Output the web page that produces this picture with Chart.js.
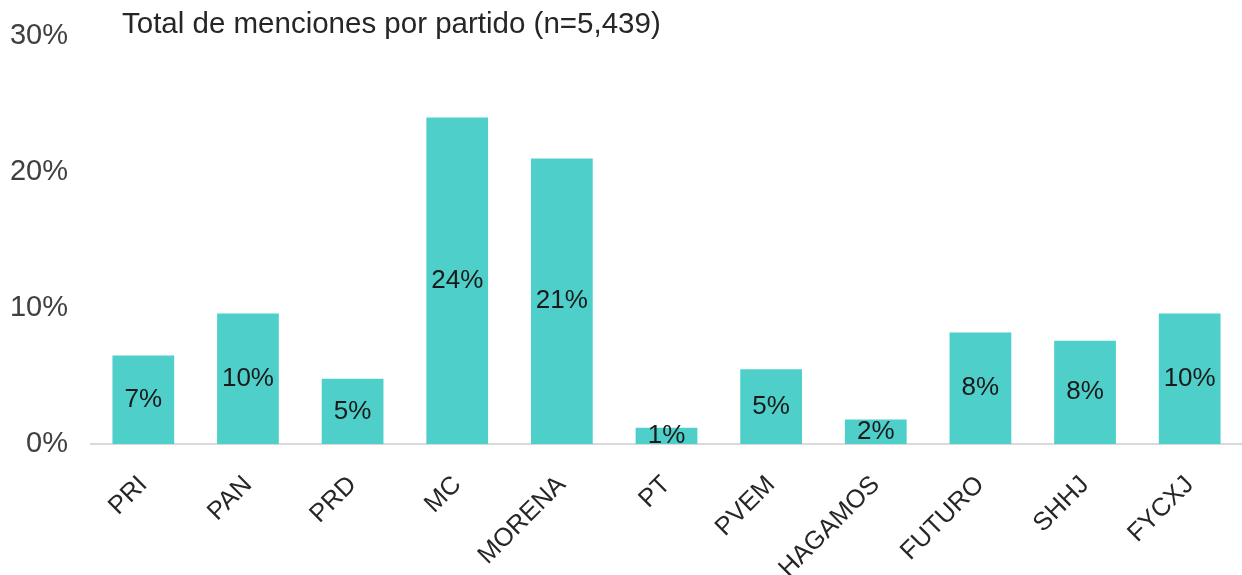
<!DOCTYPE html>
<html lang="es">
<head>
<meta charset="UTF-8">
<title>Menciones por partido</title>
<script src="https://cdn.jsdelivr.net/npm/chart.js"></script>
<style>
  html, body { margin: 0; padding: 0; background: #fff; }
  #wrap { width: 1242px; height: 575px; position: relative; }
</style>
</head>
<body>
<div id="wrap"><canvas id="grafico"></canvas></div>
<script>
// datos
const partidos = ['PRI', 'PAN', 'PRD', 'MC', 'MORENA', 'PT', 'PVEM', 'HAGAMOS', 'FUTURO', 'SHHJ', 'FYCXJ'];
const porcentajes = [6.5, 9.6, 4.8, 24.0, 21.0, 1.2, 5.5, 1.8, 8.2, 7.6, 9.6];
const etiquetas = ['7%', '10%', '5%', '24%', '21%', '1%', '5%', '2%', '8%', '8%', '10%'];
const ticksY = [0, 10, 20, 30];
const titulo = 'Total de menciones por partido (n=5,439)';

const fuente = '"Liberation Sans", Arial, sans-serif';

// etiquetas dentro de las barras (no hay plugin datalabels)
const etiquetasBarras = {
  id: 'etiquetasBarras',
  afterDatasetsDraw(chart) {
    const ctx = chart.ctx;
    const meta = chart.getDatasetMeta(0);
    ctx.save();
    ctx.font = '26px ' + fuente;
    ctx.fillStyle = '#1a1a1a';
    ctx.textAlign = 'center';
    ctx.textBaseline = 'middle';
    meta.data.forEach(function (barra, i) {
      ctx.fillText(etiquetas[i], barra.x, (barra.y + barra.base) / 2);
    });
    ctx.restore();
  }
};

// titulo arriba a la izquierda, a la altura del 30%
const tituloArriba = {
  id: 'tituloArriba',
  afterDraw(chart) {
    const ctx = chart.ctx;
    ctx.save();
    ctx.font = '29.5px ' + fuente;
    ctx.fillStyle = '#262626';
    ctx.textAlign = 'left';
    ctx.textBaseline = 'middle';
    ctx.fillText(titulo, 122, 25);
    ctx.restore();
  }
};

const ctx = document.getElementById('grafico').getContext('2d');
new Chart(ctx, {
  type: 'bar',
  data: {
    labels: partidos,
    datasets: [{
      data: porcentajes,
      backgroundColor: '#4ecfca',
      borderWidth: 0,
      categoryPercentage: 1,
      barPercentage: 0.59
    }]
  },
  options: {
    responsive: true,
    maintainAspectRatio: false,
    animation: false,
    layout: { padding: { top: 36, left: 10, right: -4, bottom: 0 } },
    plugins: {
      legend: { display: false },
      tooltip: { enabled: false }
    },
    scales: {
      x: {
        grid: { display: false, drawTicks: false },
        border: { display: true, color: '#d9d9d9', width: 2 },
        ticks: {
          color: '#262626',
          font: { family: fuente, size: 25.5 },
          minRotation: 45,
          maxRotation: 45,
          padding: 26
        },
        afterFit(scale) {
          scale.height = 131;
          // las etiquetas giradas no deben empujar el eje y
          scale.paddingLeft = 0;
          scale.paddingRight = 0;
        }
      },
      y: {
        min: 0,
        max: 30,
        grid: { display: false, drawTicks: false },
        border: { display: false },
        afterBuildTicks(scale) {
          scale.ticks = ticksY.map(v => ({ value: v }));
        },
        ticks: {
          color: '#404040',
          font: { family: fuente, size: 29 },
          padding: 23,
          callback: v => v + '%'
        },
        afterFit(scale) {
          scale.width = 81;
          scale.paddingTop = 0;
          scale.paddingBottom = 0;
        }
      }
    }
  },
  plugins: [etiquetasBarras, tituloArriba]
});
</script>
</body>
</html>
